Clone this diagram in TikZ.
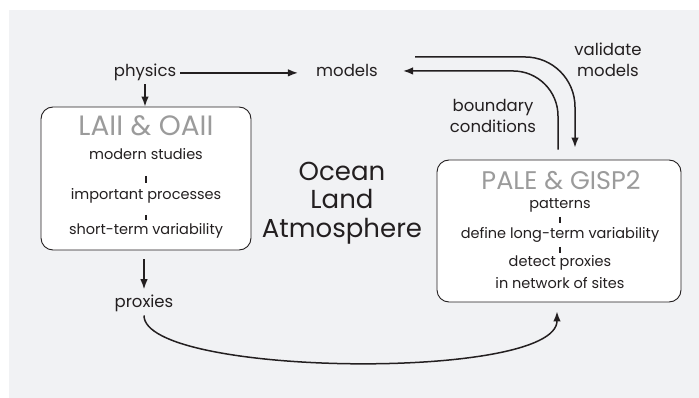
\documentclass[tikz,border=0pt]{standalone}
\usepackage{fontspec}
\setmainfont{Poppins}
\usetikzlibrary{arrows.meta}
\definecolor{panel}{HTML}{F1F2F4}
\definecolor{ink}{HTML}{231F20}
\definecolor{titlegray}{HTML}{9B9B9B}

\begin{document}
\begin{tikzpicture}[x=1pt, y=-1pt, >={Latex[length=10pt,width=7.5pt]},
  every node/.style={inner sep=0pt, text=ink},
  box/.style={rectangle, rounded corners=12pt, draw=ink, fill=white, line width=0.9pt},
  boxtitle/.style={text=titlegray, font=\fontsize{28}{30}\selectfont},
  boxline/.style={font=\fontsize{14.5}{16}\selectfont},
  word/.style={font=\fontsize{16.5}{21}\selectfont, align=center},
  flow/.style={->, draw=ink, line width=1.5pt},
  bar/.style={draw=ink, line width=2pt}]
  % Background
  \useasboundingbox (0,0) rectangle (699,398);
  \fill[panel] (9,10) rectangle (699,398);

  % Boxes
  \node[box, minimum width=210pt, minimum height=143pt] (laii) at (146,178.5) {};
  \node[box, minimum width=244pt, minimum height=142pt] (pale) at (559,231) {};

  % Left box text
  \node[boxtitle, anchor=base] (laiititle) at (146,136) {LAII \& OAII};
  \node[boxline, anchor=base] (modern) at (146,160) {modern studies};
  \node[boxline, anchor=base] (important) at (146,200) {important processes};
  \node[boxline, anchor=base] (shortterm) at (146,235) {short-term variability};
  \draw[bar, shorten <=16pt, shorten >=17pt] (modern.base) -- (important.base);
  \draw[bar, shorten <=15pt, shorten >=15pt] (important.base) -- (shortterm.base);

  % Right box text
  \node[boxtitle, anchor=base, font=\fontsize{25.5}{30}\selectfont] (paletitle) at (561,190) {PALE \& GISP2};
  \node[boxline, anchor=base] (patterns) at (560,209) {patterns};
  \node[boxline, anchor=base] (longterm) at (560,239) {define long-term variability};
  \node[boxline, anchor=base] (detect) at (560,267) {detect proxies};
  \node[boxline, anchor=base] (network) at (560,288) {in network of sites};
  \draw[bar, shorten <=8pt, shorten >=16pt] (patterns.base) -- (longterm.base);
  \draw[bar, shorten <=8pt, shorten >=14pt] (longterm.base) -- (detect.base);

  % Free words
  \node[word, anchor=base] (physics) at (145,77) {physics};
  \node[word, anchor=base] (models) at (347,77) {models};
  \node[word, anchor=base] (proxies) at (144,307) {proxies};
  \node[word] (validate) at (608,60) {validate\\models};
  \node[word] (boundary) at (493,116) {boundary\\conditions};
  \node[font=\fontsize{26}{28.5}\selectfont, align=center] (ocean) at (342,203) {Ocean\\Land\\Atmosphere};

  % Edges
  \draw[flow, shorten <=4pt, shorten >=18pt] (physics.east) -- (physics.east -| models.west);
  \draw[flow, shorten <=3pt] (physics.south) -- (physics.south |- laii.north);
  \draw[flow, shorten <=9pt, shorten >=5pt] (proxies.north |- laii.south) -- (proxies.north);
  \draw[flow, shorten <=4pt] (proxies.south) .. controls +(0,65) and +(0,70) .. ([xshift=-2pt,yshift=-9pt]pale.south);
  \draw[flow, rounded corners=50pt] ([xshift=37pt,yshift=14pt]models.east) -| ([xshift=16pt,yshift=12pt]pale.north);
  \draw[flow, rounded corners=45pt] ([xshift=-1pt,yshift=10pt]pale.north) |- ([xshift=25pt]models.east);
\end{tikzpicture}
\end{document}
